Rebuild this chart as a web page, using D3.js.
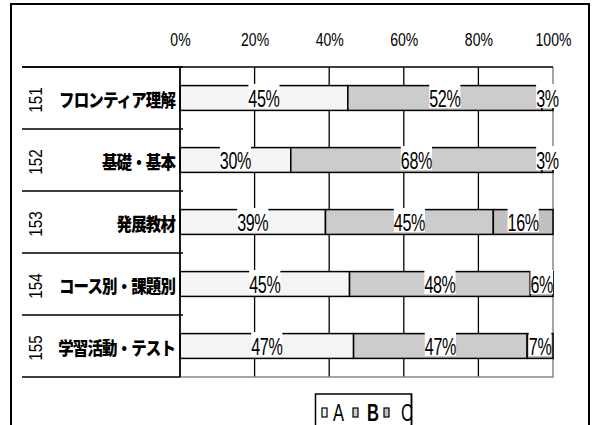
<!DOCTYPE html>
<html>
<head>
<meta charset="utf-8">
<script src="https://cdn.jsdelivr.net/npm/d3@7"></script>
<style>
  body { margin: 0; background: #fff; }
  text { font-family: "Liberation Sans", Arial, sans-serif; fill: #000; }
  .cat { font-family: "Noto Sans CJK JP", sans-serif; font-weight: 900; }
</style>
</head>
<body>
<svg></svg>
<script>
//Chart Data
const codes = ["151", "152", "153", "154", "155"];
const categories = ["フロンティア理解", "基礎・基本", "発展教材", "コース別・課題別", "学習活動・テスト"];
const seriesKeys = ["A", "B", "C"];
const valuesA = [45, 30, 39, 45, 47];
const valuesB = [52, 68, 45, 48, 47];
const valuesC = [3, 3, 16, 6, 7];
const tickValues = [0, 0.2, 0.4, 0.6, 0.8, 1];

const rows = codes.map((code, i) => ({code: code, name: categories[i], A: valuesA[i], B: valuesB[i], C: valuesC[i]}));

const w = 592;
const h = 425;
const plotLeft = 180;
const plotRight = 553;
const plotTop = 67;
const plotBottom = 377;
const colors = {A: "#f4f4f4", B: "#cccccc", C: "#c0c0c0"};

const svg = d3.select("svg")
              .attr("width", w)
              .attr("height", h);

//Scale Setup
const xScale = d3.scaleLinear()
                 .domain([0, 1])
                 .range([plotLeft, plotRight]);

const yScale = d3.scaleBand()
                 .domain(codes)
                 .range([plotTop, plotBottom])
                 .paddingInner(0.6)
                 .paddingOuter(0.3);

const stacked = d3.stack()
                  .keys(seriesKeys)
                  .offset(d3.stackOffsetExpand)(rows);

//Outer Frame
svg.append("rect")
   .attr("x", 11)
   .attr("y", 4)
   .attr("width", 578)
   .attr("height", 440)
   .attr("fill", "none")
   .attr("stroke", "#000")
   .attr("stroke-width", 2);

//Gridlines
svg.selectAll(".grid")
   .data(tickValues.slice(1, -1))
   .enter()
   .append("line")
   .attr("x1", (d) => xScale(d))
   .attr("x2", (d) => xScale(d))
   .attr("y1", plotTop)
   .attr("y2", plotBottom)
   .attr("stroke", "#000")
   .attr("stroke-width", 1.3);

//Plot Edge (right + bottom in gray)
svg.append("path")
   .attr("d", `M${xScale(1)},${plotTop}V${plotBottom}H${xScale(0)}`)
   .attr("fill", "none")
   .attr("stroke", "#888")
   .attr("stroke-width", 1.5);

//Category Dividers
const step = yScale.step();
svg.selectAll(".divider")
   .data(d3.range(codes.length + 1))
   .enter()
   .append("line")
   .attr("x1", 22)
   .attr("x2", (d) => d === codes.length ? plotLeft : 183)
   .attr("y1", (d) => plotTop + d * step)
   .attr("y2", (d) => plotTop + d * step)
   .attr("stroke", "#000")
   .attr("stroke-width", 1.5);

//Bars
const groups = svg.selectAll(".series")
                  .data(stacked)
                  .enter()
                  .append("g")
                  .attr("fill", (d) => colors[d.key]);

groups.selectAll("rect")
      .data((d) => d)
      .enter()
      .append("rect")
      .attr("x", (d) => xScale(d[0]))
      .attr("y", (d) => yScale(d.data.code))
      .attr("width", (d) => xScale(d[1]) - xScale(d[0]))
      .attr("height", yScale.bandwidth())
      .attr("stroke", "#000")
      .attr("stroke-width", 1.5);

//Axes (top value axis, left 0% line)
const xAxis = d3.axisTop(xScale)
                .tickValues(tickValues)
                .tickFormat(d3.format(".0%"))
                .tickSize(0)
                .tickPadding(21);
const axisG = svg.append("g")
                 .attr("transform", `translate(0, ${plotTop})`)
                 .call(xAxis);
axisG.select(".domain").remove();
axisG.selectAll("text")
     .attr("font-size", 18)
     .attr("font-family", "Liberation Sans, Arial, sans-serif")
     .attr("fill", "#000")
     .attr("transform", "scale(0.78,1)");

svg.append("line")
   .attr("x1", 22)
   .attr("x2", plotRight)
   .attr("y1", plotTop)
   .attr("y2", plotTop)
   .attr("stroke", "#000")
   .attr("stroke-width", 1.5);

svg.append("line")
   .attr("x1", plotLeft)
   .attr("x2", plotLeft)
   .attr("y1", plotTop)
   .attr("y2", plotBottom)
   .attr("stroke", "#000")
   .attr("stroke-width", 1.8);

//Value Labels with white boxes
const labels = [];
stacked.forEach((s, si) => {
  s.forEach((d, i) => {
    labels.push({x: (xScale(d[0]) + xScale(d[1])) / 2, y: yScale(d.data.code) + yScale.bandwidth() / 2, text: [valuesA, valuesB, valuesC][si][i] + "%"});
  });
});

const labelG = svg.selectAll(".label")
                  .data(labels)
                  .enter()
                  .append("g")
                  .attr("transform", (d) => `translate(${d.x}, ${d.y + 9})`);

labelG.append("text")
      .attr("text-anchor", "middle")
      .attr("font-size", 23)
      .attr("letter-spacing", -0.5)
      .attr("transform", "scale(0.7,1)")
      .text((d) => d.text);

labelG.each(function(){
  const g = d3.select(this);
  const box = g.select("text").node().getBBox();
  g.insert("rect", "text")
   .attr("x", box.x * 0.7)
   .attr("y", -23)
   .attr("width", box.width * 0.7)
   .attr("height", 24)
   .attr("fill", "#fff");
});

//Category Labels
svg.selectAll(".cat")
   .data(rows)
   .enter()
   .append("text")
   .classed("cat", true)
   .attr("text-anchor", "end")
   .attr("dominant-baseline", "central")
   .attr("font-size", 18)
   .attr("letter-spacing", -1)
   .attr("transform", (d) => `translate(175, ${yScale(d.code) + yScale.bandwidth() / 2 + 1}) scale(0.86,1)`)
   .text((d) => d.name);

svg.selectAll(".code")
   .data(rows)
   .enter()
   .append("text")
   .attr("text-anchor", "middle")
   .attr("dominant-baseline", "central")
   .attr("font-size", 19)
   .attr("transform", (d) => `translate(35, ${yScale(d.code) + yScale.bandwidth() / 2 + 2}) rotate(-90) scale(0.8,1)`)
   .text((d) => d.code);

//Legend
const legend = svg.append("g");
legend.append("rect")
      .attr("x", 315.5)
      .attr("y", 394)
      .attr("width", 96)
      .attr("height", 40)
      .attr("fill", "#fff")
      .attr("stroke", "#000")
      .attr("stroke-width", 1.5);

const items = legend.selectAll(".item")
                    .data(seriesKeys)
                    .enter()
                    .append("g")
                    .attr("transform", (d, i) => `translate(${322 + i * 31}, 0)`);

items.append("rect")
     .attr("y", 408)
     .attr("width", 5)
     .attr("height", 9)
     .attr("fill", (d) => colors[d])
     .attr("stroke", "#000")
     .attr("stroke-width", 1.2);

items.append("text")
     .attr("font-size", 23)
     .attr("font-weight", (d) => d === "B" ? "bold" : "normal")
     .attr("transform", (d, i) => `translate(${11 + i * 3}, 421) scale(0.72,1)`)
     .text((d) => d);

//Right edge of legend box drawn over clipped text
legend.append("line")
      .attr("x1", 411.5)
      .attr("x2", 411.5)
      .attr("y1", 394)
      .attr("y2", 425)
      .attr("stroke", "#000")
      .attr("stroke-width", 1.5);
</script>
</body>
</html>
